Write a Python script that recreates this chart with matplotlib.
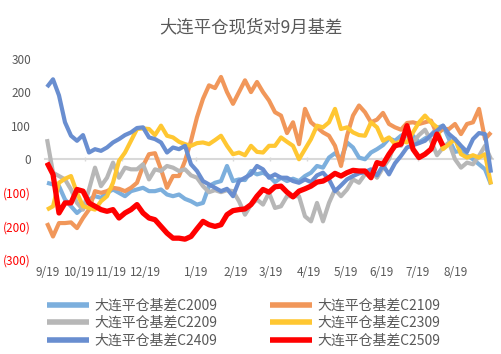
import numpy as np
import matplotlib
matplotlib.use('Agg')
import matplotlib.pyplot as plt
from matplotlib.transforms import blended_transform_factory

plt.rcParams['font.family'] = ['Noto Sans CJK SC', 'DejaVu Sans']

# month labels along the bottom
months = ['9/19', '10/19', '11/19', '12/19', '1/19', '2/19',
          '3/19', '4/19', '5/19', '6/19', '7/19', '8/19']

# basis values (one sample roughly every 6 px)
c2009 = [-70, -75, -80, -120, -140, -160, -145, -120, -110, -115, -100, -90, -100, -110, -95,
         -90, -85, -95, -95, -90, -105, -110, -105, -118, -125, -135, -130, -80, -70, -65,
         -20, -65, -60, -62, -35, -45, -40, -50, -68, -55, -65, -58, -65, -50, -40,
         -20, -25, 5, 18, 0, 50, 35, 5, 0, 20, 30, 42, 62, 55, 70,
         78, 70, 50, 62, 72, 93, 100, 60, 22, 25, 12, 0, -15, -30, -75]
c2109 = [-190, -230, -190, -190, -188, -205, -175, -150, -95, -100, -95, -85, -88, -95, -85,
         -70, -20, 15, 18, -30, -85, -50, -50, -5, 55, 125, 180, 220, 212, 245,
         200, 165, 200, 235, 200, 230, 200, 175, 140, 130, 78, 110, 45, 150, 110,
         95, 80, 70, 40, -20, 70, 130, 160, 140, 110, 118, 138, 105, 95, 88,
         108, 110, 105, 110, 115, 75, 90, 90, 105, 75, 105, 110, 150, 60, 80]
c2209 = [60, -40, -50, -60, -90, -130, -150, -90, -25, -80, -55, -10, -55, -25, -30,
         -30, -15, -60, -30, -35, -20, -25, -35, -30, -48, -55, -80, -98, -92, -98,
         -92, -95, -125, -165, -135, -120, -135, -100, -145, -140, -110, -110, -110, -170, -185,
         -130, -185, -130, -90, -110, -90, -60, -70, -45, -35, -55, -25, 0, 50, 40,
         80, 50, 72, 88, 55, 12, 35, 50, 0, -25, -10, -15, 10, 40, 0]
c2309 = [-150, -140, -70, -58, -50, -100, -140, -145, -150, -125, -110, -70, -5, 20, 55,
         90, 92, 90, 72, 100, 70, 65, 52, 45, 40, 48, 50, 45, 57, 70,
         40, 15, 20, 12, 40, 22, 20, 40, 40, 65, 52, 40, 0, 30, 60,
         100, 95, 110, 150, 90, 95, 80, 72, 70, 110, 95, 55, 65, 45, 55,
         50, 80, 110, 130, 110, 95, 30, 45, 60, 15, 5, 12, 5, 15, -75]
c2409 = [215, 238, 190, 110, 70, 55, 72, 20, 30, 25, 35, 50, 60, 72, 80,
         93, 95, 65, 60, 50, 20, 35, 30, 40, -15, -35, -65, -75, -85, -95,
         -88, -110, -65, -55, -45, -20, -30, -55, -45, -55, -55, -65, -70, -60, -68,
         -48, -40, -60, -95, -78, -60, -50, -42, -38, -30, -48, -18, -45, -12, 10,
         35, 42, 48, 55, 72, 85, 100, 75, 60, 40, 22, 60, 78, 75, -40]
c2509 = [-10, -45, -160, -130, -130, -90, -95, -130, -140, -150, -155, -150, -175, -160, -150,
         -135, -160, -175, -180, -200, -220, -235, -235, -238, -230, -207, -185, -195, -200, -195,
         -165, -153, -150, -148, -135, -110, -90, -98, -82, -80, -98, -112, -95, -88, -80,
         -68, -65, -55, -42, -50, -40, -33, -35, -35, -55, -10, -15, 15, 40, 45,
         100, 30, 5, 15, 30, 75, 40]

series = [
    ('大连平仓基差C2009', c2009, '#7cafdd', 3.0),
    ('大连平仓基差C2109', c2109, '#f1975a', 3.0),
    ('大连平仓基差C2209', c2209, '#b7b7b7', 3.0),
    ('大连平仓基差C2309', c2309, '#ffc732', 3.0),
    ('大连平仓基差C2409', c2409, '#698ed0', 3.0),
    ('大连平仓基差C2509', c2509, '#ff0000', 3.8),
]

grey = '#595959'

fig = plt.figure(figsize=(5.02, 3.54), dpi=100)
ax = fig.add_axes([45 / 502, 1 - 260 / 354, 448 / 502, 201.5 / 354])

lines = {}
for name, vals, color, lw in series:
    x = np.arange(len(vals))
    ln, = ax.plot(x, vals, color=color, lw=lw, solid_joinstyle='round',
                  solid_capstyle='butt', label=name)
    lines[name] = ln

ax.set_xlim(-1 / 3, 74 + 1 / 3)
ax.set_ylim(-300, 300)

# y axis: negatives in red with brackets
yt = [300, 200, 100, 0, -100, -200, -300]
ax.set_yticks(yt)
ax.set_yticklabels([str(v) if v >= 0 else '(%d)' % -v for v in yt])
for lab, v in zip(ax.get_yticklabels(), yt):
    lab.set_color(grey if v >= 0 else '#ff0000')
ax.tick_params(axis='y', length=0, pad=10, labelsize=8.5)

# zero line acts as the category axis
for s in ['top', 'right', 'left']:
    ax.spines[s].set_visible(False)
ax.spines['bottom'].set_position(('data', 0))
ax.spines['bottom'].set_color('#d9d9d9')
ax.spines['bottom'].set_linewidth(1.5)
ax.spines['bottom'].set_zorder(0)
month_step = 37 / 6
ax.set_xticks(np.arange(len(months)) * month_step + 1 / 6)
ax.set_xticklabels([])
ax.tick_params(axis='x', length=3, width=1, color='#d9d9d9', direction='inout')

# month labels sit at the bottom (Excel nudged a few to avoid overlap)
label_pos = [0.17, 5.33, 10.67, 16.33, 24.83, 31.5, 37.33, 43.67, 49.83, 55.83, 61.83, 68.17]
tr = blended_transform_factory(ax.transData, fig.transFigure)
for lab, p in zip(months, label_pos):
    ax.text(p, 1 - 272 / 354, lab, transform=tr, ha='center', va='center',
            fontsize=8.5, color=grey, clip_on=False)

fig.text(0.5, 1 - 27 / 354, '大连平仓现货对9月基差', ha='center', va='center',
         fontsize=12.5, color=grey)

order = ['大连平仓基差C2009', '大连平仓基差C2209', '大连平仓基差C2409',
         '大连平仓基差C2109', '大连平仓基差C2309', '大连平仓基差C2509']
leg = fig.legend([lines[n] for n in order], order, ncol=2, loc='center',
                 bbox_to_anchor=(0.485, 1 - 323 / 354), frameon=False,
                 fontsize=10, handlelength=3.0, handletextpad=0.4,
                 columnspacing=3.8, labelspacing=0.25, labelcolor=grey)
for h in leg.legend_handles:
    h.set_linewidth(4)

fig.savefig('out.png', dpi=100)
